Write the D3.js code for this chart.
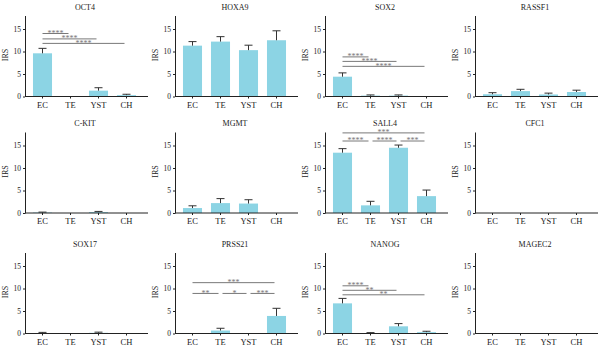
<!DOCTYPE html>
<html><head><meta charset="utf-8">
<script src="https://cdn.jsdelivr.net/npm/d3@7"></script>
<style>body{margin:0;background:#fff}svg{display:block}</style>
</head><body>
<svg id="c" width="600" height="348"></svg>
<script>
const groups = ["EC","TE","YST","CH"];
const genes = ["OCT4","HOXA9","SOX2","RASSF1","C-KIT","MGMT","SALL4","CFC1","SOX17","PRSS21","NANOG","MAGEC2"];
const means = [
  [9.6,0,1.3,0.3],
  [11.3,12.2,10.3,12.5],
  [4.4,0.2,0.2,0],
  [0.5,1.2,0.45,1.0],
  [0.1,0,0.2,0],
  [1.1,2.2,2.1,0],
  [13.4,1.7,14.5,3.75],
  [0,0,0,0],
  [0.1,0,0.15,0],
  [0,0.66,0,3.9],
  [6.7,0.1,1.6,0.3],
  [0,0,0,0]
];
const errs = [
  [1.1,0,0.65,0.2],
  [0.9,1.1,1.1,2.1],
  [0.85,0.15,0.15,0],
  [0.35,0.4,0.3,0.4],
  [0.1,0,0.15,0],
  [0.5,1.0,0.85,0],
  [0.9,0.9,0.6,1.35],
  [0,0,0,0],
  [0.15,0,0.15,0],
  [0,0.5,0,1.7],
  [1.1,0.1,0.6,0.2],
  [0,0,0,0]
];
const yTicks = [0,5,10,15];
// significance: [gene, from, to, height (IRS), label]
const sigs = [
  [0,0,1,14.0,"****"],[0,0,2,12.8,"****"],[0,0,3,11.8,"****"],
  [2,0,1,8.8,"****"],[2,0,2,7.8,"****"],[2,0,3,6.7,"****"],
  [6,0,3,17.8,"***"],[6,0,1,16.0,"****"],[6,1,2,16.0,"****"],[6,2,3,16.0,"***"],
  [9,0,3,11.3,"***"],[9,0,1,8.9,"**"],[9,1,2,8.9,"*"],[9,2,3,8.9,"***"],
  [10,0,1,10.6,"****"],[10,0,2,9.6,"**"],[10,0,3,8.6,"**"]
];

const svg = d3.select("#c");
const font = "'Liberation Serif','Times New Roman',serif";
const colX = [0,150,300,450];
const rowY = [0,116.5,237];
const barColor = "#8cd4e4";

const x = d3.scaleBand().domain(groups).range([28.5,140.5]).paddingInner(0.32).paddingOuter(0.16);
const y = d3.scaleLinear().domain([0,18]).range([96.5,15.5]);

genes.forEach((g,gi)=>{
  const p = svg.append("g").attr("transform",`translate(${colX[gi%4]},${rowY[Math.floor(gi/4)]})`);
  // title
  p.append("text").attr("x",85).attr("y",9.5).attr("text-anchor","middle")
    .attr("font-family",font).attr("font-size",8).attr("fill","#222").text(g);
  // y label
  p.append("text").attr("transform","translate(8,55) rotate(-90)").attr("text-anchor","middle")
    .attr("font-family",font).attr("font-size",8).attr("fill","#222").text("IRS");
  // bars
  const data = groups.map((c,i)=>({c, v:means[gi][i], e:errs[gi][i]}));
  p.selectAll("rect.bar").data(data.filter(d=>d.v>0)).join("rect")
    .attr("x",d=>x(d.c)).attr("width",x.bandwidth())
    .attr("y",d=>y(d.v)).attr("height",d=>y(0)-y(d.v)).attr("fill",barColor);
  // error bars
  const eb = data.filter(d=>d.e>0);
  const cx = d=>x(d.c)+x.bandwidth()/2;
  p.selectAll("line.ev").data(eb).join("line")
    .attr("x1",cx).attr("x2",cx).attr("y1",d=>y(d.v)).attr("y2",d=>y(d.v+d.e))
    .attr("stroke","#333").attr("stroke-width",1);
  p.selectAll("line.ec").data(eb).join("line")
    .attr("x1",d=>cx(d)-4).attr("x2",d=>cx(d)+4).attr("y1",d=>y(d.v+d.e)).attr("y2",d=>y(d.v+d.e))
    .attr("stroke","#333").attr("stroke-width",1);
  // y axis
  const ya = p.append("g").attr("transform","translate(25,0)")
    .call(d3.axisLeft(y).tickValues(yTicks).tickSize(2).tickSizeOuter(0).tickPadding(2));
  ya.select(".domain").attr("stroke","#222");
  ya.selectAll(".tick line").attr("stroke","#222");
  ya.selectAll("text").attr("font-family",font).attr("font-size",7.5).attr("fill","#222");
  // x axis
  const xa = p.append("g").attr("transform",`translate(0,${y(0)})`)
    .call(d3.axisBottom(x).tickSize(2).tickSizeOuter(0).tickPadding(3));
  xa.select(".domain").remove();
  xa.selectAll(".tick line").attr("stroke","#222");
  xa.selectAll("text").attr("font-family",font).attr("font-size",8.5).attr("fill","#222");
  p.append("line").attr("x1",25).attr("x2",148).attr("y1",y(0)).attr("y2",y(0))
    .attr("stroke","#222").attr("stroke-width",1);
  // significance
  sigs.filter(s=>s[0]===gi).forEach(s=>{
    const x1 = x(groups[s[1]])+x.bandwidth()/2 + (s[2]-s[1]===1 && s[1]>0 ? 2 : 0);
    const x2 = x(groups[s[2]])+x.bandwidth()/2 - 2;
    p.append("line").attr("x1",x1).attr("x2",x2).attr("y1",y(s[3])).attr("y2",y(s[3]))
      .attr("stroke","#6a6a6a").attr("stroke-width",0.9);
    p.append("text").attr("x",(x1+x2)/2).attr("y",y(s[3])+2.2).attr("text-anchor","middle")
      .attr("font-family",font).attr("font-size",8).attr("fill","#777").text(s[4]);
  });
});
</script>
</body></html>
